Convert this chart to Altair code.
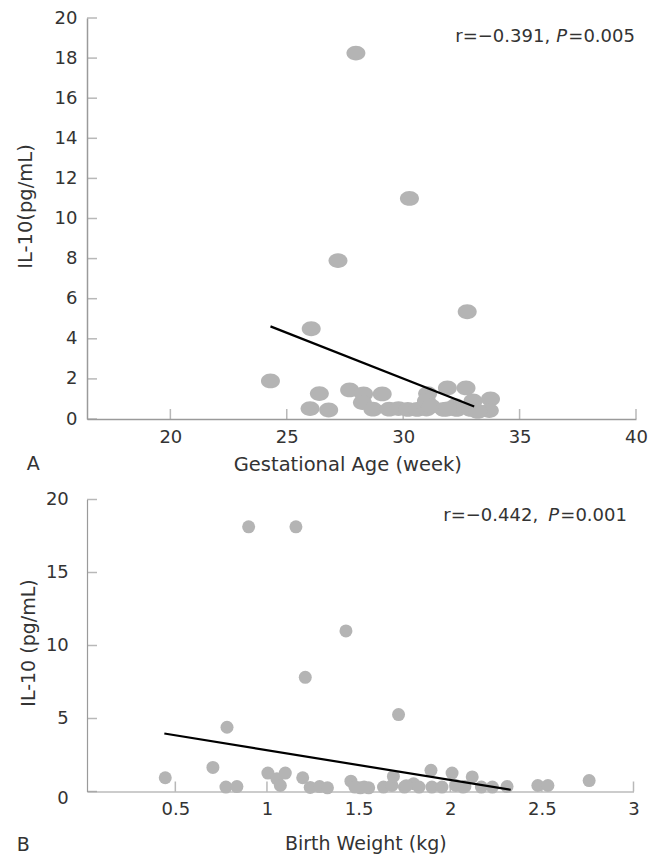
import altair as alt
import pandas as pd

# ---------------- Panel A data ----------------
ga_weeks = [27.97, 30.27, 27.2, 32.75, 26.05, 24.3, 26.4, 26.0, 26.8, 27.7, 28.3, 29.1,
            28.25, 28.7, 29.4, 29.8, 30.2, 30.6, 31.0, 31.05, 31.0, 31.2, 31.9, 32.7,
            31.75, 32.25, 32.3, 32.9, 33.0, 33.75, 33.7, 33.2, 31.9]
ga_il10 = [18.25, 11.0, 7.9, 5.35, 4.5, 1.9, 1.27, 0.52, 0.45, 1.45, 1.25, 1.25,
           0.82, 0.49, 0.49, 0.52, 0.48, 0.48, 0.5, 1.27, 0.9, 0.64, 1.55, 1.55,
           0.48, 0.66, 0.48, 0.48, 0.9, 1.0, 0.42, 0.38, 0.5]
ga_fit_x = [24.3, 33.05]
ga_fit_y = [4.62, 0.62]
ga_xticks = [20, 25, 30, 35, 40]
ga_yticks = [0, 2, 4, 6, 8, 10, 12, 14, 16, 18, 20]
ga_xdomain = [16.42, 40]
ga_ydomain = [0, 20]
ga_stat = ["r=\u22120.391,", "P", "=0.005"]

# ---------------- Panel B data ----------------
bw_kg = [0.9, 1.158, 1.431, 1.209, 1.718, 0.782, 0.445, 0.705, 0.776, 0.836,
         1.005, 1.054, 1.1, 1.073, 1.195, 1.236, 1.287, 1.33, 1.458, 1.509,
         1.555, 1.636, 1.682, 1.69, 1.75, 1.8, 1.83, 1.895, 1.9, 1.955,
         2.01, 2.03, 2.07, 2.12, 2.17, 2.23, 2.31, 2.478, 2.533, 2.758,
         1.48, 1.53, 1.76, 2.08]
bw_il10 = [18.13, 18.13, 11.0, 7.82, 5.27, 4.4, 0.94, 1.65, 0.3, 0.34,
           1.26, 0.87, 1.26, 0.41, 0.94, 0.28, 0.34, 0.25, 0.71, 0.25,
           0.25, 0.3, 0.41, 1.03, 0.3, 0.53, 0.3, 1.45, 0.3, 0.3,
           1.26, 0.41, 0.3, 1.0, 0.3, 0.3, 0.34, 0.41, 0.41, 0.75,
           0.3, 0.3, 0.4, 0.35]
bw_fit_x = [0.44, 2.33]
bw_fit_y = [3.97, 0.12]
bw_xticks = [0.5, 1, 1.5, 2, 2.5, 3]
bw_yticks = [0, 5, 10, 15, 20]
bw_xdomain = [0.018, 3]
bw_ydomain = [0, 20]
bw_stat = ["r=\u22120.442,", "P", "=0.001"]

FONT = "DejaVu Sans"
PT_COLOR = "#b4b4b4"
AXIS_C = "#9a9a9a"
TEXT_C = "#333333"
ELLIPSE = "M -1 0 A 1 0.78 0 1 1 1 0 A 1 0.78 0 1 1 -1 0 Z"


def panel(xs, ys, fit_x, fit_y, xticks, yticks, xdom, ydom, w, h,
          xtitle, ytitle, xt_pos, yt_pos, letter, letter_pos, stat, stat_pos,
          shape, size, domain_w, title_fs, ylab_pad, zero_offset):
    xscale = alt.Scale(domain=xdom, nice=False, zero=False)
    yscale = alt.Scale(domain=ydom, nice=False, zero=False)
    xaxis = alt.Axis(values=xticks, grid=False, ticks=False, tickSize=0,
                     domainColor=AXIS_C, domainWidth=domain_w,
                     labelFont=FONT, labelFontSize=18, labelColor=TEXT_C,
                     labelPadding=9, labelFlush=False, labelOverlap=False,
                     format="~g",
                     title=xtitle, titleFont=FONT, titleFontSize=title_fs,
                     titleFontWeight="normal", titleColor=TEXT_C,
                     titleX=xt_pos[0], titleY=xt_pos[1], titleBaseline="middle")
    yaxis = alt.Axis(values=yticks, grid=False, ticks=False, tickSize=0,
                     domainColor=AXIS_C, domainWidth=domain_w,
                     labelFont=FONT, labelFontSize=18, labelColor=TEXT_C,
                     labelPadding=ylab_pad, labelFlush=False, labelOverlap=False,
                     format="~g",
                     labelOffset={"condition": {"test": "datum.value === 0",
                                                "value": zero_offset},
                                  "value": 0},
                     title=ytitle, titleFont=FONT, titleFontSize=title_fs,
                     titleFontWeight="normal", titleColor=TEXT_C,
                     titleX=yt_pos[0], titleY=yt_pos[1], titleBaseline="middle",
                     titleAlign="center")

    pts = alt.Chart(pd.DataFrame({"x": xs, "y": ys})).mark_point(
        shape=shape, size=size, filled=True, color=PT_COLOR, opacity=1, strokeWidth=0
    ).encode(x=alt.X("x:Q", scale=xscale, axis=xaxis),
             y=alt.Y("y:Q", scale=yscale, axis=yaxis))

    fit = alt.Chart(pd.DataFrame({"x": fit_x, "y": fit_y})).mark_line(
        color="black", strokeWidth=2.2
    ).encode(x="x:Q", y="y:Q")

    xt = alt.Chart(pd.DataFrame({"x": xticks})).mark_tick(
        orient="vertical", size=10, thickness=1.5, color=AXIS_C, yOffset=-5
    ).encode(x="x:Q", y=alt.datum(ydom[0]))

    yt = alt.Chart(pd.DataFrame({"y": yticks})).mark_tick(
        orient="horizontal", size=10, thickness=1.5, color=AXIS_C, xOffset=5
    ).encode(y="y:Q", x=alt.datum(xdom[0]))

    layers = [xt, yt, pts, fit]

    # statistics annotation (italic P)
    styles = ["normal", "italic", "normal"]
    for s, st, px in zip(stat, styles, stat_pos[0]):
        layers.append(
            alt.Chart(pd.DataFrame({"s": [s]})).mark_text(
                align="left", baseline="middle", font=FONT, fontSize=18,
                fontStyle=st, color=TEXT_C
            ).encode(x=alt.value(px), y=alt.value(stat_pos[1]), text="s:N")
        )

    # panel letter
    layers.append(
        alt.Chart(pd.DataFrame({"s": [letter]})).mark_text(
            align="center", baseline="middle", font=FONT, fontSize=19, color=TEXT_C
        ).encode(x=alt.value(letter_pos[0]), y=alt.value(letter_pos[1]), text="s:N")
    )

    return alt.layer(*layers).properties(width=w, height=h)


chart_a = panel(ga_weeks, ga_il10, ga_fit_x, ga_fit_y, ga_xticks, ga_yticks,
                ga_xdomain, ga_ydomain, 549, 401,
                "Gestational Age (week)", "IL-10(pg/mL)",
                (260.3, 45), (-61.7, 188), "A", (-53.7, 446),
                ga_stat, ([368.3, 469.3, 481.3], 19), ELLIPSE, 361, 1.5,
                19.5, 10, 0)

chart_b = panel(bw_kg, bw_il10, bw_fit_x, bw_fit_y, bw_xticks, bw_yticks,
                bw_xdomain, bw_ydomain, 546.5, 292,
                "Birth Weight (kg)", "IL-10 (pg/mL)",
                (278.3, 52), (-58.7, 143), "B", (-63.7, 345),
                bw_stat, ([356.3, 461.3, 473.3], 16.3), "circle", 169, 1.2,
                19, 18.7, 7)

chart = alt.concat(chart_a, chart_b, columns=1, spacing=16.5).properties(
    padding={"left": 7, "top": 1, "right": 5, "bottom": 0}
).configure_view(stroke=None)

chart.save("out.html", embed_options={"renderer": "svg", "actions": False})
